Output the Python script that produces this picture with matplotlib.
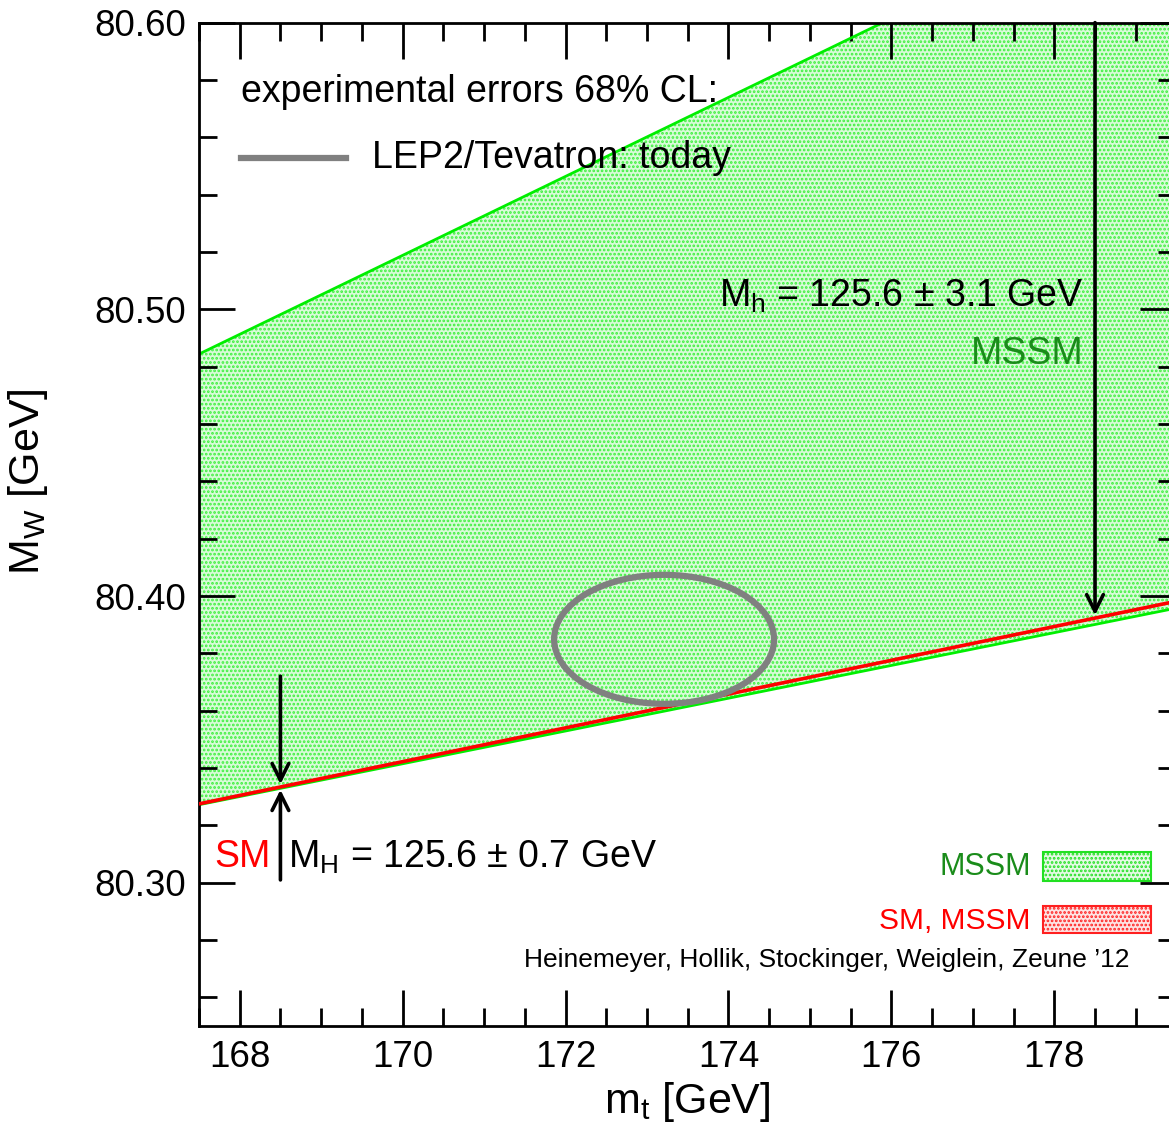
import numpy as np
import matplotlib
matplotlib.use("Agg")
import matplotlib.pyplot as plt
from matplotlib.patches import Ellipse, Rectangle

plt.rcParams["font.family"] = ["Liberation Sans", "DejaVu Sans"]
plt.rcParams["mathtext.fontset"] = "custom"
plt.rcParams["mathtext.rm"] = "Liberation Sans"
plt.rcParams["mathtext.it"] = "Liberation Sans:italic"
plt.rcParams["hatch.linewidth"] = 1.3

# band edges (m_t in GeV, M_W in GeV)
mt_edge = [167.5, 179.5]
mssm_low = [80.3272, 80.3958]
mssm_high = [80.4844, 80.6497]
sm_line = [80.3275, 80.3982]

# experimental 68% CL ellipse
mt_exp, mt_r = 173.21, 1.35
mw_exp, mw_r = 80.3849, 0.0225

# arrows marking the Higgs mass points
mh_x = [168.5, 178.5]

fig = plt.figure(figsize=(11.69, 11.30), dpi=100)
ax = fig.add_axes([0.1702, 0.0920, 0.8362, 0.8879])

ax.fill_between(mt_edge, mssm_low, mssm_high, facecolor="#d8fbd8",
                edgecolor="#3cf03c", hatch="....", linewidth=0, zorder=1)
ax.plot(mt_edge, mssm_high, color="#00ee00", lw=2, zorder=2)
ax.plot(mt_edge, mssm_low, color="#00ee00", lw=2, zorder=2)
ax.plot(mt_edge, sm_line, color="#ff0000", lw=2.6, zorder=3)

ax.add_patch(Ellipse((mt_exp, mw_exp), 2 * mt_r, 2 * mw_r, fill=False,
                     edgecolor="#808080", lw=4.5, zorder=4))

sm_at = np.interp(mh_x, mt_edge, sm_line)
arr = dict(arrowstyle="->", lw=2.6, color="k", mutation_scale=30)
ax.annotate("", xy=(mh_x[0], sm_at[0]), xytext=(mh_x[0], 80.373), arrowprops=arr, zorder=5)
ax.annotate("", xy=(mh_x[0], sm_at[0]), xytext=(mh_x[0], 80.300), arrowprops=arr, zorder=5)
ax.annotate("", xy=(mh_x[1], sm_at[1]), xytext=(mh_x[1], 80.601), arrowprops=arr, zorder=5)

# texts
ax.text(168.02, 80.5758, "experimental errors 68% CL:", fontsize=27, va="center")
ax.plot([168.02, 169.31], [80.5528, 80.5528], color="#808080", lw=4.5)
ax.text(169.63, 80.5528, "LEP2/Tevatron: today", fontsize=27, va="center")

ax.text(178.365, 80.5044, r"M$_\mathrm{h}$ = 125.6 ± 3.1 GeV", fontsize=27,
        ha="right", va="center")
ax.text(178.365, 80.4844, "MSSM", fontsize=27, color="#1a8c1a", ha="right", va="center")

ax.text(168.384, 80.3089, "SM", fontsize=27, color="#ff0000", ha="right", va="center")
ax.text(168.59, 80.3089, r"M$_\mathrm{H}$ = 125.6 ± 0.7 GeV", fontsize=27,
        ha="left", va="center")

# legend boxes
ax.text(177.71, 80.3054, "MSSM", fontsize=22, color="#1a8c1a", ha="right", va="center")
ax.add_patch(Rectangle((177.86, 80.3007), 1.33, 0.0099, facecolor="#e4fae4",
                       edgecolor="#22e022", hatch="....", lw=1.5))
ax.text(177.71, 80.2866, "SM, MSSM", fontsize=21.5, color="#ff0000", ha="right", va="center")
ax.add_patch(Rectangle((177.86, 80.2823), 1.33, 0.0095, facecolor="#fde4e4",
                       edgecolor="#ff2020", hatch="....", lw=1.5))
ax.text(178.92, 80.2729, "Heinemeyer, Hollik, Stockinger, Weiglein, Zeune \u201912",
        fontsize=19, ha="right", va="center")

ax.set_xlim(mt_edge)
ax.set_ylim(80.25, 80.60)
ax.set_xticks(np.arange(168, 179.1, 2))
ax.set_xticks(np.arange(167.5, 179.6, 0.5), minor=True)
ax.set_yticks([80.30, 80.40, 80.50, 80.60])
ax.set_yticks(np.arange(80.26, 80.601, 0.02), minor=True)
ax.set_yticklabels(["80.30", "80.40", "80.50", "80.60"])
ax.tick_params(which="both", direction="in", top=True, right=True, labelsize=26.5, width=2)
ax.tick_params(which="major", length=26, pad=10)
ax.tick_params(axis="y", which="major", pad=9)
ax.tick_params(which="minor", length=13)
for s in ax.spines.values():
    s.set_linewidth(2)

ax.set_xlabel(r"m$_\mathrm{t}$ [GeV]", fontsize=31, labelpad=4)
ax.set_ylabel(r"M$_\mathrm{W}$ [GeV]", fontsize=31)
ax.yaxis.set_label_coords(-0.152, 0.543)

fig.savefig("out.png", dpi=100)
